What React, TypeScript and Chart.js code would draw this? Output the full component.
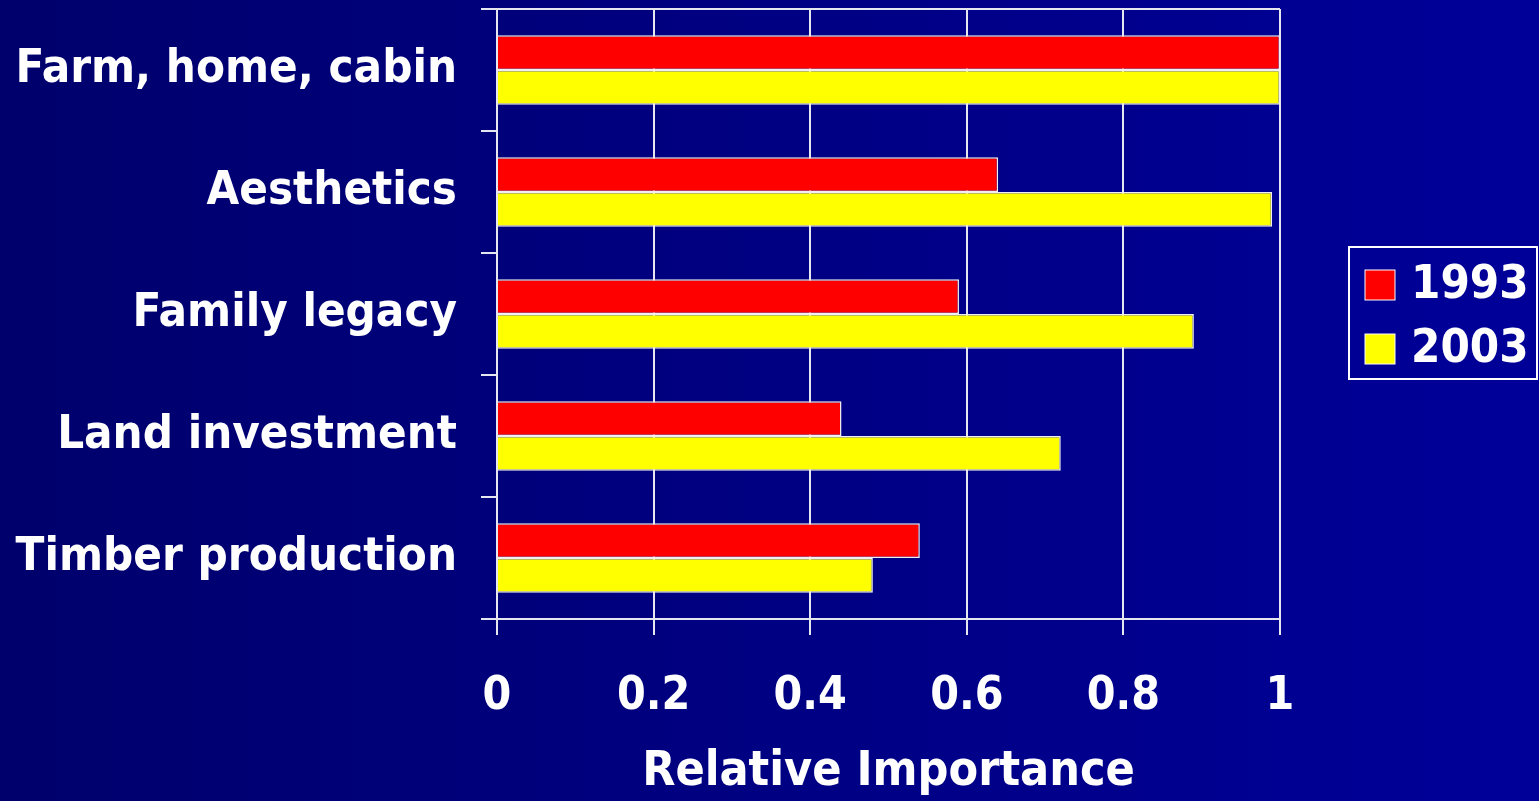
import React, { useEffect, useRef } from "react";
import { Chart, registerables } from "chart.js";

Chart.register(...registerables);

const categories = ["Farm, home, cabin", "Aesthetics", "Family legacy", "Land investment", "Timber production"];
const seriesLabels = ["1993", "2003"];
const values1993 = [1.0, 0.64, 0.59, 0.44, 0.54];
const values2003 = [1.0, 0.99, 0.89, 0.72, 0.48];
const xTicks = [0, 0.2, 0.4, 0.6, 0.8, 1];
const xTitle = "Relative Importance";

const FONT = "'DejaVu Sans Condensed', 'DejaVu Sans', sans-serif";

const bgPlugin = {
  id: "bg",
  beforeDraw(chart: any) {
    const { ctx, width, height } = chart;
    const g = ctx.createLinearGradient(0, 0, width, 0);
    g.addColorStop(0, "#00006c");
    g.addColorStop(1, "#000099");
    ctx.save();
    ctx.fillStyle = g;
    ctx.fillRect(0, 0, width, height);
    ctx.restore();
  },
  afterDraw(chart: any) {
    const { ctx, chartArea } = chart;
    ctx.save();
    // top border of plot
    ctx.strokeStyle = "#e6e6f0";
    ctx.lineWidth = 2;
    ctx.beginPath();
    ctx.moveTo(chartArea.left - 16, chartArea.top);
    ctx.lineTo(chartArea.right, chartArea.top);
    ctx.stroke();

    // legend
    const ds = chart.data.datasets;
    const bx = chartArea.right + 69;
    const by = chartArea.top + 238;
    const bw = 188;
    const bh = 132;
    ctx.strokeStyle = "#ffffff";
    ctx.lineWidth = 2;
    ctx.strokeRect(bx, by, bw, bh);
    ctx.font = `bold 47px ${FONT}`;
    ctx.textBaseline = "middle";
    ctx.textAlign = "left";
    ds.forEach((d: any, i: number) => {
      const cy = by + 38 + i * 64;
      ctx.fillStyle = d.backgroundColor;
      ctx.fillRect(bx + 16, cy - 15, 30, 30);
      ctx.strokeStyle = "#ffffff";
      ctx.lineWidth = 1;
      ctx.strokeRect(bx + 16, cy - 15, 30, 30);
      ctx.fillStyle = "#ffffff";
      ctx.fillText(d.label, bx + 62, cy + 1);
    });
    ctx.restore();
  },
};

export default function App() {
  const ref = useRef<HTMLCanvasElement>(null);
  useEffect(() => {
    document.body.style.margin = "0";
    const chart = new Chart(ref.current!, {
      type: "bar",
      data: {
        labels: categories,
        datasets: [
          {
            label: seriesLabels[0],
            data: values1993,
            backgroundColor: "#ff0000",
            borderColor: "#f0f0f0",
            borderWidth: 1.5,
            barPercentage: 1,
            categoryPercentage: 0.57,
          },
          {
            label: seriesLabels[1],
            data: values2003,
            backgroundColor: "#ffff00",
            borderColor: "#f0f0f0",
            borderWidth: 1.5,
            barPercentage: 1,
            categoryPercentage: 0.57,
          },
        ],
      },
      options: {
        indexAxis: "y",
        responsive: false,
        animation: false,
        layout: { padding: { left: 0, right: 259, top: 9, bottom: 0 } },
        plugins: { legend: { display: false }, tooltip: { enabled: false } },
        scales: {
          x: {
            min: 0,
            max: 1,
            afterBuildTicks(scale: any) {
              scale.ticks = xTicks.map((v) => ({ value: v }));
            },
            afterFit(scale: any) {
              scale.height = 182;
              scale.paddingLeft = 0;
              scale.paddingRight = 0;
            },
            grid: {
              color: "#e6e6f0",
              lineWidth: 2,
              tickLength: 16,
              tickColor: "#e6e6f0",
            },
            border: { color: "#e6e6f0", width: 2 },
            ticks: {
              color: "#ffffff",
              padding: 34,
              font: { family: FONT, size: 46, weight: "bold" },
              callback: (v: any) => String(v),
            },
            title: {
              display: true,
              text: xTitle,
              color: "#ffffff",
              font: { family: FONT, size: 48, weight: "bold" },
              padding: { top: 0, bottom: 0 },
            },
          },
          y: {
            afterFit(scale: any) {
              scale.width = 497;
              scale.paddingTop = 0;
              scale.paddingBottom = 0;
            },
            grid: {
              offset: true,
              color: "rgba(0,0,0,0)",
              lineWidth: 2,
              tickLength: 16,
              tickColor: "#e6e6f0",
              drawOnChartArea: false,
            },
            border: { color: "#e6e6f0", width: 2 },
            ticks: {
              color: "#ffffff",
              padding: 24,
              font: { family: FONT, size: 47, weight: "bold" },
            },
          },
        },
      },
      plugins: [bgPlugin],
    } as any);
    return () => chart.destroy();
  }, []);
  return <canvas ref={ref} width={1539} height={801} style={{ display: "block" }} />;
}
